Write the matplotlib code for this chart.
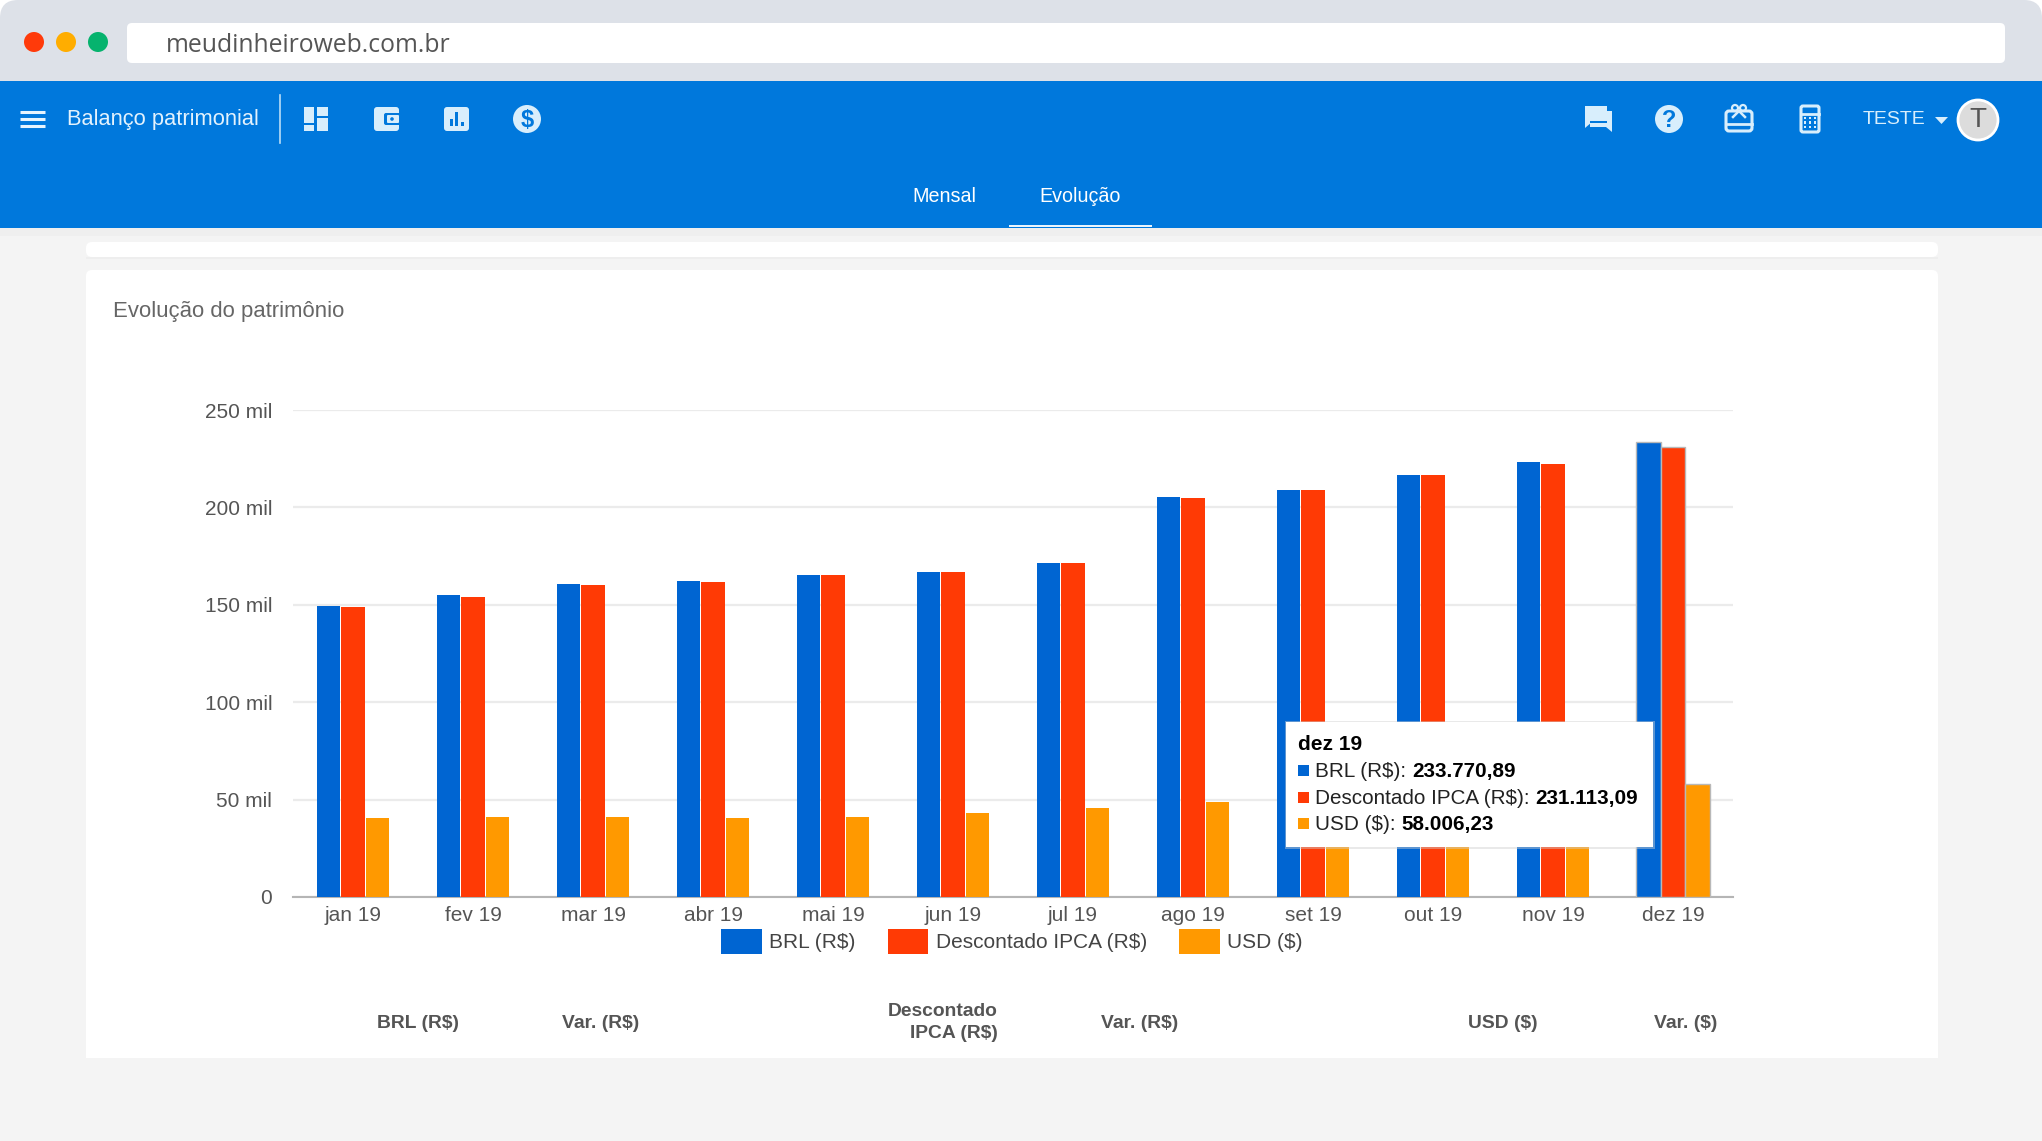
import matplotlib
matplotlib.use("Agg")
import matplotlib.pyplot as plt
import numpy as np
from matplotlib.patches import Circle, FancyBboxPatch, Polygon, Rectangle

plt.rcParams['font.family'] = ['Liberation Sans', 'DejaVu Sans']

# valores
meses = ['jan 19', 'fev 19', 'mar 19', 'abr 19', 'mai 19', 'jun 19',
         'jul 19', 'ago 19', 'set 19', 'out 19', 'nov 19', 'dez 19']
brl = [149500, 154800, 160800, 162200, 165200, 166600,
       171500, 205500, 209000, 216800, 223400, 233770.89]
ipca = [149000, 154000, 160300, 161800, 165200, 166600,
        171500, 205000, 209000, 216800, 222200, 231113.09]
usd = [40500, 41300, 41000, 40500, 41000, 43300,
       45500, 49000, 51500, 53000, 55000, 58006.23]
y_ticks = [0, 50000, 100000, 150000, 200000, 250000]
y_labels = ['0', '50 mil', '100 mil', '150 mil', '200 mil', '250 mil']

AZUL = '#0065D2'
VERMELHO = '#FF3A05'
LARANJA = '#FF9900'
NAV = '#0078DC'
ICONE = '#D8EEFC'
W, H = 2042, 1141


def pixel_axes(fig, z):
    ax = fig.add_axes([0, 0, 1, 1], zorder=z)
    ax.set_xlim(0, W)
    ax.set_ylim(H, 0)
    ax.axis('off')
    return ax


def caixa(ax, x0, y0, x1, y1, cor, raio=4, **kw):
    ax.add_patch(FancyBboxPatch((x0 + raio, y0 + raio), x1 - x0 - 2 * raio, y1 - y0 - 2 * raio,
                                boxstyle=f'round,pad={raio},rounding_size={raio}',
                                fc=cor, ec='none', **kw))


def contorno(ax, x0, y0, x1, y1, raio=3):
    ax.add_patch(FancyBboxPatch((x0 + raio, y0 + raio), x1 - x0 - 2 * raio, y1 - y0 - 2 * raio,
                                boxstyle=f'round,pad={raio},rounding_size={raio}',
                                fc='none', ec=ICONE, lw=2.2))


def icones_esquerda(bg):
    # painel
    for x0, y0, x1, y1 in [(304, 107, 314, 123), (317, 107, 328, 116),
                           (304, 125, 314, 131), (317, 118, 328, 131)]:
        bg.add_patch(Rectangle((x0, y0), x1 - x0, y1 - y0, fc=ICONE, ec='none'))
    # carteira
    caixa(bg, 374, 107, 399, 131, ICONE, raio=3)
    caixa(bg, 384, 113, 401, 125, NAV, raio=2)
    caixa(bg, 387, 115, 399, 123, ICONE, raio=1)
    bg.add_patch(Circle((392, 119), 1.8, fc=NAV, ec='none'))
    # barras
    caixa(bg, 444, 107, 469, 131, ICONE, raio=3)
    for x0, y0 in [(450, 119), (455, 112), (461, 122)]:
        bg.add_patch(Rectangle((x0, y0), 2.6, 126 - y0, fc=NAV, ec='none'))
    # cifrao
    bg.add_patch(Circle((527, 119), 14, fc=ICONE, ec='none'))
    bg.text(527, 120.5, '$', color=NAV, fontsize=17, fontweight='bold', ha='center', va='center')


def icones_direita(bg):
    # conversa
    bg.add_patch(Polygon([(1585, 106), (1607, 106), (1607, 122), (1592, 122), (1585, 128)],
                         closed=True, fc=ICONE, ec='none'))
    bg.add_patch(Polygon([(1590, 122), (1607, 122), (1607, 111), (1612, 111),
                          (1612, 132), (1606, 127), (1590, 127)], closed=True, fc=ICONE, ec='none'))
    bg.add_patch(Rectangle((1590, 121), 17, 2, fc=NAV, ec='none'))
    # ajuda
    bg.add_patch(Circle((1669, 119), 14, fc=ICONE, ec='none'))
    bg.text(1669, 120.5, '?', color=NAV, fontsize=17, fontweight='bold', ha='center', va='center')
    # presente
    contorno(bg, 1726, 111, 1752, 131)
    bg.plot([1726, 1752], [124, 124], color=ICONE, lw=2)
    bg.add_patch(Circle((1735, 108), 3, fc='none', ec=ICONE, lw=1.6))
    bg.add_patch(Circle((1743, 108), 3, fc='none', ec=ICONE, lw=1.6))
    bg.plot([1733, 1739, 1745], [117, 111, 117], color=ICONE, lw=1.8)
    # calculadora
    contorno(bg, 1801, 106, 1819, 132, raio=2)
    bg.plot([1801, 1819], [114, 114], color=ICONE, lw=2)
    for yy in (118, 122.5, 127):
        for xx in (1805, 1810, 1815):
            bg.add_patch(Rectangle((xx - 1.4, yy - 1.4), 2.8, 2.8, fc=ICONE, ec='none'))


def desenhar_fundo(bg):
    bg.add_patch(Rectangle((0, 81), W, H - 81, fc='#F4F4F4', ec='none'))
    caixa(bg, 0, 0, W, 160, '#DDE1E8', raio=18)
    bg.add_patch(Rectangle((0, 81), W, 147, fc=NAV, ec='none'))
    bg.add_patch(Rectangle((0, 228), W, 8, fc='#EFEFEF', ec='none'))

    # barra do navegador
    caixa(bg, 127, 23, 2005, 63, 'white', raio=5)
    for x, cor in [(34, '#FF3A0A'), (66, '#FFAD00'), (98, '#06B36E')]:
        bg.add_patch(Circle((x, 42), 10, fc=cor, ec='none'))
    bg.text(166, 45, 'meudinheiroweb.com.br', fontsize=17.8, color='#555555', va='center',
            family=['Open Sans', 'DejaVu Sans'])

    # menu
    for y in (112, 119, 126):
        bg.plot([20, 45], [y, y], color='#E6F4FE', lw=2.2, solid_capstyle='butt')
    bg.text(67, 120, 'Balanço patrimonial', fontsize=15.75, color='#E3F2FD', va='center')
    bg.plot([280, 280], [95, 143], color='#B9DDF7', lw=1.2)
    icones_esquerda(bg)
    icones_direita(bg)
    bg.text(1863, 119.5, 'TESTE', fontsize=14, color=ICONE, va='center')
    bg.add_patch(Polygon([(1935, 117), (1948, 117), (1941.5, 124)], closed=True, fc=ICONE, ec='none'))
    bg.add_patch(Circle((1978, 120), 20, fc='#DCDCDC', ec='white', lw=2))
    bg.text(1978, 120, 'T', fontsize=20, color='#555555', ha='center', va='center')

    # abas
    bg.text(944, 196, 'Mensal', fontsize=14.2, color='white', ha='center', va='center')
    bg.text(1080, 196, 'Evolução', fontsize=14.2, color='white', ha='center', va='center')
    bg.add_patch(Rectangle((1009, 225), 143, 2, fc='#EAF5FD', ec='none'))

    # cartoes
    caixa(bg, 86, 242, 1938, 257, 'white', raio=6)
    bg.add_patch(Rectangle((86, 257), 1852, 2, fc='#EEEEEE', ec='none'))
    caixa(bg, 86, 270, 1938, 1070, 'white', raio=6)
    bg.add_patch(Rectangle((0, 1058), W, H - 1058, fc='#F4F4F4', ec='none'))
    bg.text(113, 311, 'Evolução do patrimônio', fontsize=15.9, color='#666666', va='center')

    # cabecalho da tabela
    for x, y, txt in [(459, 1023, 'BRL (R$)'), (639, 1023, 'Var. (R$)'),
                      (998, 1011, 'Descontado'), (998, 1033, 'IPCA (R$)'),
                      (1178, 1023, 'Var. (R$)'), (1538, 1023, 'USD ($)'),
                      (1717, 1023, 'Var. ($)')]:
        bg.text(x, y, txt, fontsize=13.9, fontweight='bold', color='#555555', ha='right', va='center')


def desenhar_grafico(fig):
    ax = fig.add_axes([293 / W, (H - 897) / H, (1733 - 293) / W, (897 - 410) / H], zorder=2)
    ax.patch.set_alpha(0)
    x = np.arange(len(meses))
    passo = 0.205
    series = [(brl, AZUL, 'BRL (R$)', -passo), (ipca, VERMELHO, 'Descontado IPCA (R$)', 0),
              (usd, LARANJA, 'USD ($)', passo)]
    for valores, cor, nome, desloc in series:
        barras = ax.bar(x + desloc, valores, width=0.195, color=cor, label=nome, zorder=3)
        # dez 19 esta com o mouse em cima
        barras[-1].set_width(passo)
        barras[-1].set_x(x[-1] + desloc - passo / 2)
        barras[-1].set_edgecolor('#B8B8B8')
        barras[-1].set_linewidth(1)

    ax.set_xlim(-0.5, len(meses) - 0.5)
    ax.set_ylim(0, 250000)
    ax.set_xticks(x)
    ax.set_xticklabels(meses)
    ax.set_yticks(y_ticks)
    ax.set_yticklabels(y_labels)
    ax.tick_params(axis='x', length=0, pad=6.5, labelsize=15, labelcolor='#555555')
    ax.tick_params(axis='y', length=0, pad=15, labelsize=15, labelcolor='#555555')
    ax.grid(axis='y', color='#EBEBEB', lw=1.6, zorder=0)
    ax.set_axisbelow(True)
    for lado in ('top', 'left', 'right'):
        ax.spines[lado].set_visible(False)
    ax.spines['bottom'].set_color('#B5B5B5')
    ax.spines['bottom'].set_linewidth(1.5)

    ax.legend(loc='center', bbox_to_anchor=((1012 - 293) / 1440, -44.5 / 487), ncol=3, frameon=False,
              fontsize=15, handlelength=1.95, handleheight=1.45, handletextpad=0.35,
              columnspacing=1.55, borderpad=0, labelcolor='#444444')
    return ax


def formata_br(v):
    return f'{v:,.2f}'.replace(',', 'X').replace('.', ',').replace('X', '.')


def desenhar_tooltip(top):
    top.add_patch(Rectangle((1284.5, 720.5), 370, 128, fc='#D0D0D0', ec='none', alpha=0.45))
    top.add_patch(Rectangle((1286, 722), 367, 125, fc='white', ec='none'))
    top.text(1298, 745, meses[-1], fontsize=15, fontweight='bold', color='black', va='center')
    linhas = [(771.5, AZUL, 'BRL (R$): ', brl[-1], 1412),
              (798.5, VERMELHO, 'Descontado IPCA (R$): ', ipca[-1], 1535),
              (824.5, LARANJA, 'USD ($): ', usd[-1], 1401)]
    for y, cor, nome, valor, x_valor in linhas:
        top.add_patch(Rectangle((1298, y - 6.5), 11, 11, fc=cor, ec='none'))
        top.text(1315, y, nome, fontsize=14.9, color='#222222', va='center')
        top.text(x_valor, y, formata_br(valor), fontsize=14.9, fontweight='bold', color='black', va='center')


fig = plt.figure(figsize=(W / 100, H / 100), dpi=100, facecolor='white')
bg = pixel_axes(fig, 0)
desenhar_fundo(bg)
desenhar_grafico(fig)
top = pixel_axes(fig, 3)
desenhar_tooltip(top)
fig.savefig('out.png', dpi=100)
